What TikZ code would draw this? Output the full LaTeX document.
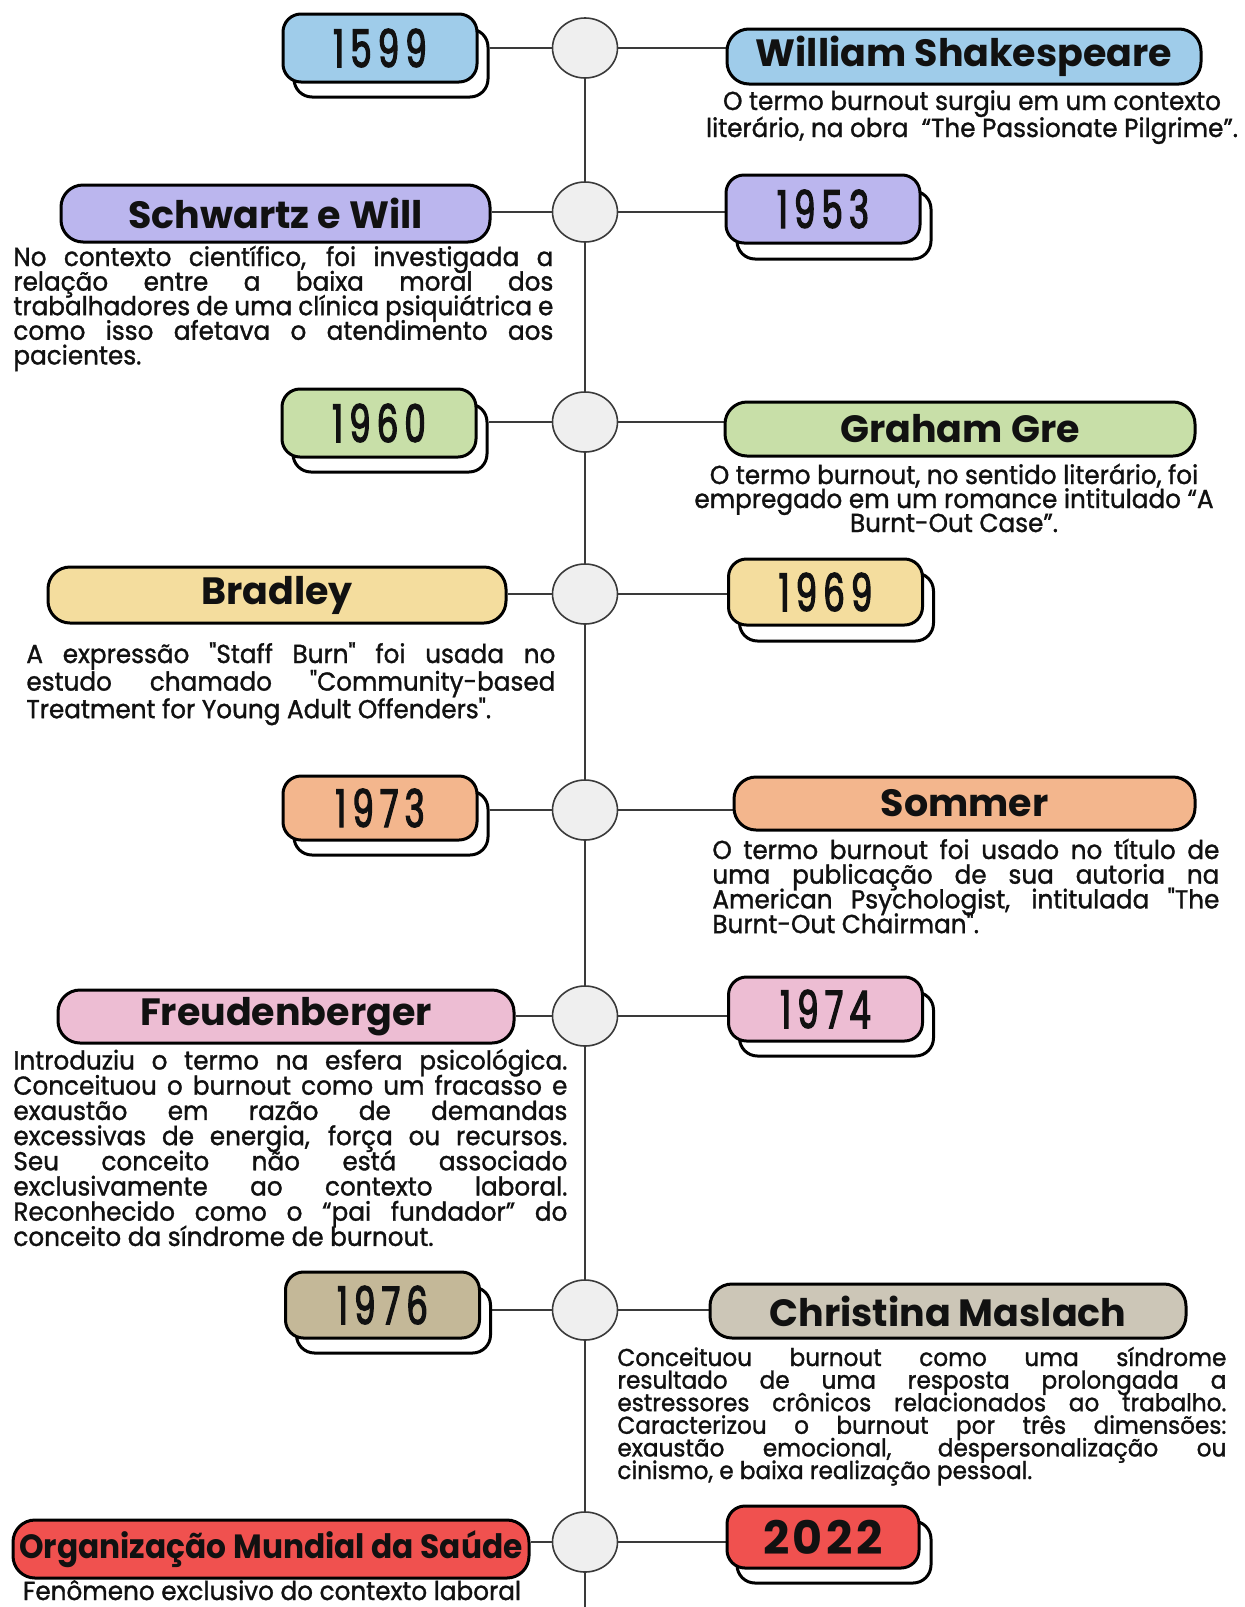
\documentclass[tikz,border=0pt]{standalone}
\usepackage{fontspec}
\setmainfont{Poppins}
\newfontfamily\namefont{Poppins}
\newfontfamily\omsfont{Poppins}[FakeStretch=0.93]
\newfontfamily\bodyfont{Poppins}[FakeStretch=0.95,FakeBold=1.2]
\newfontfamily\yearfont{Poppins}[FakeStretch=0.65,LetterSpace=12,FakeBold=2.5]
\newfontfamily\boldyear{Poppins}[LetterSpace=8]
\usetikzlibrary{shapes.geometric,backgrounds}

\definecolor{cBlue}{HTML}{9FCCEA}
\definecolor{cPurple}{HTML}{BBB6EE}
\definecolor{cGreen}{HTML}{C8DFA8}
\definecolor{cYellow}{HTML}{F4DD9E}
\definecolor{cOrange}{HTML}{F3B68D}
\definecolor{cPink}{HTML}{EDBDD3}
\definecolor{cTanA}{HTML}{C4B898}
\definecolor{cTanB}{HTML}{CCC6B7}
\definecolor{cRed}{HTML}{F0514F}
\definecolor{cDot}{HTML}{EFEFEF}
\definecolor{cLine}{HTML}{3A3A3A}
\definecolor{cInk}{HTML}{111111}

% one justified line of a paragraph
\newcommand{\fullline}[1]{\makebox[\linewidth][s]{#1}\\}
% a paragraph block: width, font size, leading, lines
\newcommand{\bodyblock}[4]{\parbox[t]{#1}{\bodyfont\fontsize{#2}{#3}\selectfont
  \lineskiplimit=-30pt\lineskip=0pt #4}}

\tikzset{
  yearbox/.style={draw=black, line width=1.5pt, rounded corners=9pt,
    minimum width=97pt, minimum height=34pt, inner sep=0pt,
    font=\yearfont\fontsize{26}{26}\selectfont, text=cInk},
  yearshadow/.style={yearbox, fill=white},
  namebox/.style={draw=black, line width=1.5pt, rounded corners=11pt,
    inner sep=0pt, font=\namefont\bfseries\fontsize{19}{22}\selectfont, text=cInk},
  dot/.style={ellipse, draw=cLine, line width=0.8pt, fill=cDot,
    minimum width=32.5pt, minimum height=30pt, inner sep=0pt},
  link/.style={draw=cLine, line width=0.9pt},
  bodytext/.style={inner sep=0pt, text=cInk}
}

\begin{document}
\begin{tikzpicture}[x=0.5pt,y=-0.5pt]
\useasboundingbox (0,0) rectangle (1244,1607);

% ---------- timeline dots ----------
\node[dot] (c1) at (585,48) {};
\node[dot] (c2) at (585,212) {};
\node[dot] (c3) at (585,422) {};
\node[dot] (c4) at (585,594) {};
\node[dot] (c5) at (585,810) {};
\node[dot] (c6) at (585,1016) {};
\node[dot] (c7) at (585,1310) {};
\node[dot] (c8) at (585,1542) {};
\coordinate (tlend) at (585,1607);

% ---------- 1599 / William Shakespeare ----------
\node[yearshadow] (s1599) at (391,63) {};
\node[yearbox, fill=cBlue] (y1599) at (380,48) {1599};
\node[namebox, fill=cBlue, minimum width=237pt, minimum height=27.5pt] (nShake) at (964,56.5) {William Shakespeare};
\node[bodytext, anchor=base] (tShake) at (972,110) {\bodyblock{280pt}{13}{13.5pt}{\centering
O termo burnout surgiu em um contexto\\
literário, na obra\ \ “The Passionate Pilgrime”.}};

% ---------- Schwartz e Will / 1953 ----------
\node[namebox, fill=cPurple, minimum width=214.5pt, minimum height=28.5pt] (nSchw) at (275.5,213.5) {Schwartz e Will};
\node[yearshadow] (s1953) at (834,225) {};
\node[yearbox, fill=cPurple] (y1953) at (823,209) {1953};
\node[bodytext, anchor=base west] (tSchw) at (13,266) {\bodyblock{270pt}{13}{12.3pt}{%
\fullline{No contexto científico, foi investigada a}
\fullline{relação entre a baixa moral dos}
\fullline{trabalhadores de uma clínica psiquiátrica e}
\fullline{como isso afetava o atendimento aos}
pacientes.}};

% ---------- 1960 / Graham Gre ----------
\node[yearshadow] (s1960) at (390,438) {};
\node[yearbox, fill=cGreen] (y1960) at (379,423) {1960};
\node[namebox, fill=cGreen, minimum width=235pt, minimum height=27pt] (nGraham) at (960,429) {Graham Gre};
\node[bodytext, anchor=base] (tGraham) at (954,484) {\bodyblock{260pt}{13}{12pt}{\centering
O termo burnout, no sentido literário, foi\\
empregado em um romance intitulado “A\\
Burnt-Out Case”.}};

% ---------- Bradley / 1969 ----------
\node[namebox, fill=cYellow, minimum width=229pt, minimum height=28pt] (nBrad) at (277,595) {Bradley};
\node[yearshadow] (s1969) at (836.5,607) {};
\node[yearbox, fill=cYellow, minimum height=33pt] (y1969) at (825.5,592) {1969};
\node[bodytext, anchor=base west] (tBrad) at (26,663) {\bodyblock{264.5pt}{13}{13.8pt}{%
\fullline{A expressão "Staff Burn" foi usada no}
\fullline{estudo chamado "Community-based}
Treatment for Young Adult Offenders".}};

% ---------- 1973 / Sommer ----------
\node[yearshadow, minimum height=32pt] (s1973) at (391,823) {};
\node[yearbox, fill=cOrange, minimum height=32pt] (y1973) at (380,808) {1973};
\node[namebox, fill=cOrange, minimum width=230.5pt, minimum height=26.5pt] (nSom) at (964.5,803.5) {Sommer};
\node[bodytext, anchor=base west] (tSom) at (712,859) {\bodyblock{253.5pt}{13}{12.35pt}{%
\fullline{O termo burnout foi usado no título de}
\fullline{uma publicação de sua autoria na}
\fullline{American Psychologist, intitulada "The}
Burnt-Out Chairman".}};

% ---------- Freudenberger / 1974 ----------
\node[namebox, fill=cPink, minimum width=228pt, minimum height=26.5pt] (nFreud) at (286,1016.5) {Freudenberger};
\node[yearshadow, minimum height=32pt] (s1974) at (836.5,1024) {};
\node[yearbox, fill=cPink, minimum height=32pt] (y1974) at (825.5,1009) {1974};
\node[bodytext, anchor=base west] (tFreud) at (13,1069.5) {\bodyblock{277pt}{13}{12.6pt}{%
\fullline{Introduziu o termo na esfera psicológica.}
\fullline{Conceituou o burnout como um fracasso e}
\fullline{exaustão em razão de demandas}
\fullline{excessivas de energia, força ou recursos.}
\fullline{Seu conceito não está associado}
\fullline{exclusivamente ao contexto laboral.}
\fullline{Reconhecido como o “pai fundador” do}
conceito da síndrome de burnout.}};

% ---------- 1976 / Christina Maslach ----------
\node[yearshadow, minimum height=33pt] (s1976) at (393.5,1320) {};
\node[yearbox, fill=cTanA, minimum height=33pt] (y1976) at (382.5,1305) {1976};
\node[namebox, fill=cTanB, minimum width=238pt, minimum height=27pt] (nMas) at (948,1311) {Christina Maslach};
\node[bodytext, anchor=base west] (tMas) at (617,1366) {\bodyblock{304.5pt}{12.2}{11.3pt}{%
\fullline{Conceituou burnout como uma síndrome}
\fullline{resultado de uma resposta prolongada a}
\fullline{estressores crônicos relacionados ao trabalho.}
\fullline{Caracterizou o burnout por três dimensões:}
\fullline{exaustão emocional, despersonalização ou}
cinismo, e baixa realização pessoal.}};

% ---------- Organização Mundial da Saúde / 2022 ----------
\node[namebox, fill=cRed, minimum width=258pt, minimum height=29pt,
  font=\omsfont\bfseries\fontsize{16.8}{20}\selectfont] (nOMS) at (271,1549) {Organização Mundial da Saúde};
\node[yearshadow, minimum height=31pt] (s2022) at (834,1552) {};
\node[yearbox, fill=cRed, minimum width=96pt, minimum height=31pt,
  font=\boldyear\bfseries\fontsize{23}{23}\selectfont] (y2022) at (823,1537) {2022};
\node[bodytext, anchor=base] (tOMS) at (272,1600) {\bodyfont\fontsize{13}{14}\selectfont Fenômeno exclusivo do contexto laboral};

% ---------- timeline and connectors ----------
\begin{pgfonlayer}{background}
  \fill[white] (0,0) rectangle (1244,1607);
  \draw[link] (c1.center) -- (tlend);
  \draw[link] (c1) -- (c1 -| s1599.east);
  \draw[link] (c1) -- (c1 -| nShake.west);
  \draw[link] (c2) -- (c2 -| nSchw.east);
  \draw[link] (c2) -- (c2 -| y1953.west);
  \draw[link] (c3) -- (c3 -| s1960.east);
  \draw[link] (c3) -- (c3 -| nGraham.west);
  \draw[link] (c4) -- (c4 -| nBrad.east);
  \draw[link] (c4) -- (c4 -| y1969.west);
  \draw[link] (c5) -- (c5 -| s1973.east);
  \draw[link] (c5) -- (c5 -| nSom.west);
  \draw[link] (c6) -- (c6 -| nFreud.east);
  \draw[link] (c6) -- (c6 -| y1974.west);
  \draw[link] (c7) -- (c7 -| s1976.east);
  \draw[link] (c7) -- (c7 -| nMas.west);
  \draw[link] (c8) -- (c8 -| nOMS.east);
  \draw[link] (c8) -- (c8 -| y2022.west);
\end{pgfonlayer}
\end{tikzpicture}
\end{document}
